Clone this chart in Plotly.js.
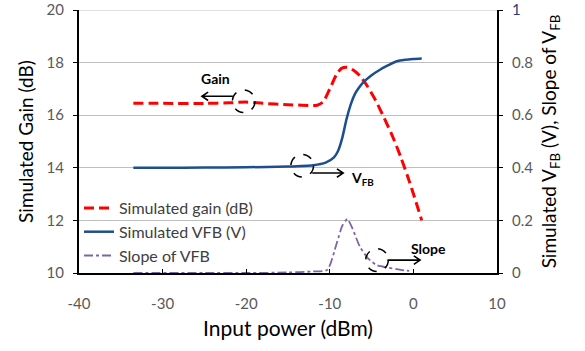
<!DOCTYPE html>
<html>
<head>
<meta charset="utf-8">
<script src="https://cdn.plot.ly/plotly-3.0.1.min.js"></script>
<style>html,body{margin:0;padding:0;background:#fff;}#chart{width:585px;height:351px;}</style>
</head>
<body>
<div id="chart"></div>
<script>
// Simulated gain (dB), left axis
const gainX = [-33.5, -30, -25, -22, -20, -18, -15, -12.5, -11.5, -10.8, -10, -9.2, -8.6, -7.9, -7.2, -6.4, -5.5, -4.5, -3.5, -2.5, -1.5, -0.5, 1.0];
const gainY = [16.45, 16.45, 16.45, 16.47, 16.5, 16.45, 16.4, 16.37, 16.38, 16.5, 17.0, 17.55, 17.78, 17.82, 17.72, 17.5, 17.1, 16.55, 15.9, 15.2, 14.4, 13.5, 12.0];
// Simulated VFB (V), right axis
const vfbX = [-33.5, -30, -25, -20, -15, -12, -10.5, -9.5, -9.0, -8.5, -8.0, -7.5, -7.0, -6.5, -6.0, -5.0, -4.0, -3.0, -2.0, -1.0, 0.0, 1.0];
const vfbY = [0.400, 0.400, 0.401, 0.402, 0.405, 0.410, 0.420, 0.440, 0.465, 0.515, 0.585, 0.640, 0.680, 0.705, 0.725, 0.752, 0.773, 0.790, 0.805, 0.811, 0.814, 0.816];
// Slope of VFB, right axis
const slopeX = [-33.5, -25, -20, -15, -12, -10.3, -9.2, -8.5, -7.9, -7.3, -6.4, -5.4, -4.4, -3.0, -1.5, -0.5];
const slopeY = [0.0, 0.0, 0.0, 0.002, 0.006, 0.012, 0.11, 0.18, 0.205, 0.17, 0.10, 0.055, 0.03, 0.02, 0.012, 0.008];

const leftTicks = [10, 12, 14, 16, 18, 20];
const rightTicks = [0, 0.2, 0.4, 0.6, 0.8, 1];
const rightTickText = ['0', '0.2', '0.4', '0.6', '0.8', '<span style="fill:#1f3f7a">1</span>'];
const xTicks = [-40, -30, -20, -10, 0, 10];
const xTickText = ['-40', '-30', '-20', '-10', '0', '10'];

// Callouts: circle center, arrow tail/head, label
const callouts = [
  {cx: -20.3, cy: 16.53, tailX: -21.6, headX: -25.3, ay: 16.72, label: '<b>Gain</b>', lx: -23.7, ly: 17.4},
  {cx: -13.3, cy: 14.08, tailX: -12.1, headX: -8.4, ay: 13.8, label: '<b>V<sub>FB</sub></b>', lx: -6.1, ly: 13.6},
  {cx: -4.35, cy: 10.49, tailX: -3.1, headX: 0.8, ay: 10.49, label: '<b>Slope</b>', lx: 1.8, ly: 10.95}
];
const rx = 1.35, ry = 0.43;      // circle half-size in data units
const hx = 0.75, hy = 0.16;      // arrowhead size in data units

const font = 'Lato, "Open Sans", sans-serif';

const traces = [
  {x: gainX, y: gainY, name: 'Simulated gain (dB)', type: 'scatter', mode: 'lines',
   line: {color: '#ff0000', width: 3, dash: '10px,5px', shape: 'spline', smoothing: 0.6}},
  {x: vfbX, y: vfbY, name: 'Simulated VFB (V)', type: 'scatter', mode: 'lines', yaxis: 'y2',
   line: {color: '#1f4e8c', width: 2.5, shape: 'spline', smoothing: 0.6}},
  {x: slopeX, y: slopeY, name: 'Slope of VFB', type: 'scatter', mode: 'lines', yaxis: 'y2',
   line: {color: '#8064a2', width: 1.8, dash: 'dashdot', shape: 'spline', smoothing: 0.6}}
];

const shapes = [
  {type: 'line', xref: 'paper', yref: 'y', x0: 0, x1: 1, y0: 20, y1: 20, line: {color: '#bfbfbf', width: 1}, layer: 'below'}
];
callouts.forEach(c => {
  shapes.push({type: 'circle', xref: 'x', yref: 'y',
    x0: c.cx - rx, x1: c.cx + rx, y0: c.cy - ry, y1: c.cy + ry,
    line: {color: '#000', width: 1.5, dash: 'dash'}});
  const dir = c.headX > c.tailX ? -1 : 1;
  const bx = c.headX + dir * hx;
  shapes.push({type: 'path', xref: 'x', yref: 'y',
    path: `M ${c.tailX} ${c.ay} L ${c.headX} ${c.ay} M ${bx} ${c.ay + hy} L ${c.headX} ${c.ay} L ${bx} ${c.ay - hy}`,
    line: {color: '#000', width: 1.6}});
});

const annotations = callouts.map(c => ({x: c.lx, y: c.ly, xref: 'x', yref: 'y', text: c.label, showarrow: false,
  font: {family: font, size: 14, color: '#000'}}));

const layout = {
  width: 585, height: 351,
  margin: {l: 79, r: 88, t: 10, b: 78},
  paper_bgcolor: '#fff', plot_bgcolor: '#fff',
  font: {family: font, size: 14, color: '#595959'},
  showlegend: true,
  legend: {x: 0.0, y: 0.0, xanchor: 'left', yanchor: 'bottom', bgcolor: 'rgba(0,0,0,0)',
           font: {family: font, size: 16, color: '#404040'}, tracegroupgap: 0, itemwidth: 30},
  xaxis: {range: [-40, 10], tickvals: xTicks, ticktext: xTickText, ticks: 'inside', ticklen: 4, tickcolor: '#000',
          showgrid: false, zeroline: false, showline: true, linecolor: '#000', linewidth: 2,
          ticklabelstandoff: 16, ticklabeloverflow: 'allow',
          title: {text: 'Input power (dBm)', font: {family: font, size: 21, color: '#000'}, standoff: 10},
          tickfont: {family: font, size: 15, color: '#595959'}},
  yaxis: {range: [10, 20], tickvals: leftTicks, ticks: 'outside', ticklen: 4, tickcolor: '#000',
          showgrid: true, gridcolor: '#bfbfbf', gridwidth: 1, zeroline: false,
          showline: true, linecolor: '#000', linewidth: 2,
          ticklabelstandoff: 6, ticklabeloverflow: 'allow',
          title: {text: 'Simulated Gain (dB)', font: {family: font, size: 19, color: '#000'}, standoff: 8},
          tickfont: {family: font, size: 15, color: '#595959'}},
  yaxis2: {range: [0, 1], overlaying: 'y', side: 'right', tickvals: rightTicks, ticktext: rightTickText,
           ticks: 'outside', ticklen: 4, tickcolor: '#000', showgrid: false, zeroline: false,
           showline: true, linecolor: '#000', linewidth: 2,
           ticklabelstandoff: 6, ticklabeloverflow: 'allow',
           title: {text: 'Simulated V<sub>FB</sub> (V), Slope of V<sub>FB</sub>', font: {family: font, size: 19, color: '#000'}, standoff: 10},
           tickfont: {family: font, size: 15, color: '#595959'}},
  shapes: shapes,
  annotations: annotations
};

Plotly.newPlot('chart', traces, layout, {displayModeBar: false, staticPlot: true});
</script>
</body>
</html>
